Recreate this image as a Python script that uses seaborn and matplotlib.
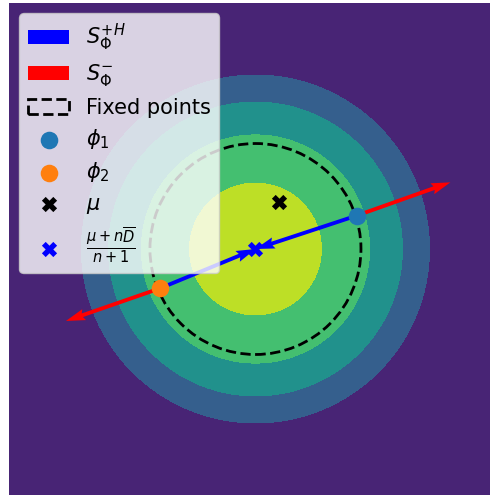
import numpy as np
import matplotlib
matplotlib.use("Agg")
import matplotlib.pyplot as plt
import matplotlib.patches as mpatches
import seaborn as sns

# Contour levels of the (negative squared distance) score around the posterior mean
levels = [-3.50, -2.72, -1.94, -1.17, -0.39, 0.39]
center = [0.0, 0.0]
fixed_radius = 1.0

# Points
phi1 = [0.958, 0.316]
phi2 = [-0.905, -0.373]
mu = [0.223, 0.445]
post_mean = [0.0, 0.0]

# Arrow end points
red_end_1 = [1.848, 0.632]
red_end_2 = [-1.796, -0.682]

xlim = (-2.336, 2.223)
ylim = (-2.332, 2.332)

fig = plt.figure(figsize=(4.91, 4.96), dpi=100)
ax = fig.add_axes([9 / 491, 1 / 496, 481 / 491, 492 / 496])

xs = np.linspace(xlim[0], xlim[1], 500)
ys = np.linspace(ylim[0], ylim[1], 500)
X, Y = np.meshgrid(xs, ys)
Z = -((X - center[0]) ** 2 + (Y - center[1]) ** 2)
Z = np.maximum(Z, levels[0] + 1e-6)
ax.contourf(X, Y, Z, levels=levels, cmap="viridis")

circle = mpatches.Circle(center, fixed_radius, fill=False, ls="--", lw=2,
                         ec="black", label="Fixed points", zorder=3)
ax.add_patch(circle)

# Projection arrows (blue, towards the posterior mean) and expansion arrows (red)
bx = [phi1[0], phi2[0]]
by = [phi1[1], phi2[1]]
bu = [post_mean[0] - phi1[0], post_mean[0] - phi2[0]]
bv = [post_mean[1] - phi1[1], post_mean[1] - phi2[1]]
ax.quiver(bx, by, bu, bv, angles="xy", scale_units="xy", scale=1,
          color="blue", width=0.008, zorder=4, label=r"$S_\Phi^{+H}$")
ru = [red_end_1[0] - phi1[0], red_end_2[0] - phi2[0]]
rv = [red_end_1[1] - phi1[1], red_end_2[1] - phi2[1]]
ax.quiver(bx, by, ru, rv, angles="xy", scale_units="xy", scale=1,
          color="red", width=0.008, zorder=4, label=r"$S_\Phi^{-}$")

sns.scatterplot(x=[phi1[0]], y=[phi1[1]], color="tab:blue", s=160, marker="o",
                linewidth=0, label=r"$\phi_1$", ax=ax, zorder=5)
sns.scatterplot(x=[phi2[0]], y=[phi2[1]], color="tab:orange", s=160, marker="o",
                linewidth=0, label=r"$\phi_2$", ax=ax, zorder=5)
sns.scatterplot(x=[mu[0]], y=[mu[1]], color="black", s=120, marker="X",
                linewidth=0, label=r"$\mu$", ax=ax, zorder=5)
sns.scatterplot(x=[post_mean[0]], y=[post_mean[1]], color="blue", s=120, marker="X",
                linewidth=0, label=r"$\frac{\mu + n\overline{D}}{n+1}$", ax=ax, zorder=5)

ax.set_xlim(*xlim)
ax.set_ylim(*ylim)
ax.axis("off")

handles, labels = ax.get_legend_handles_labels()
order = [r"$S_\Phi^{+H}$", r"$S_\Phi^{-}$", "Fixed points", r"$\phi_1$",
         r"$\phi_2$", r"$\mu$", r"$\frac{\mu + n\overline{D}}{n+1}$"]
lookup = dict(zip(labels, handles))
ax.legend([lookup[k] for k in order], order, loc="upper left", fontsize=15,
          labelspacing=0.45)

fig.savefig("out.png", dpi=100)
